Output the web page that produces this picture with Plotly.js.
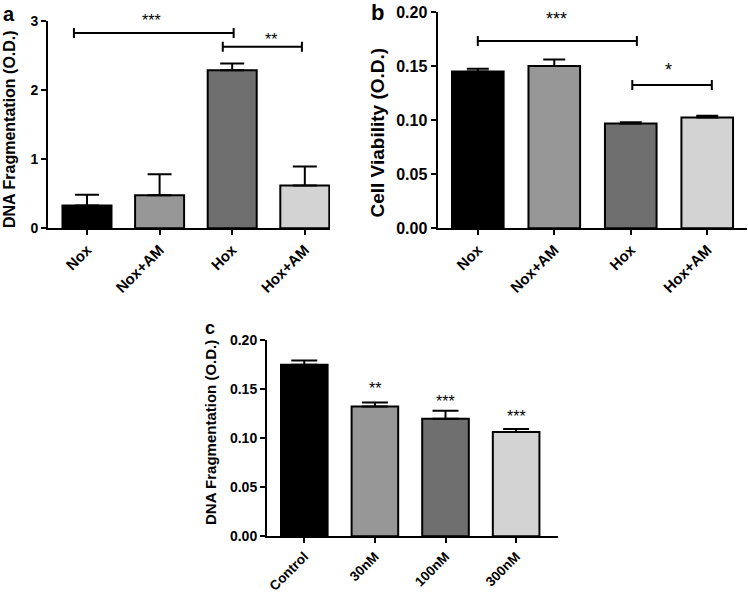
<!DOCTYPE html>
<html>
<head>
<meta charset="utf-8">
<script src="https://cdn.plot.ly/plotly-3.0.1.min.js"></script>
<style>html,body{margin:0;padding:0;background:#fff;}#chart{width:748px;height:593px;}</style>
</head>
<body>
<div id="chart"></div>
<script>
// ---- data ----
var catsAB = ['Nox', 'Nox+AM', 'Hox', 'Hox+AM'];
var valsA = [0.33, 0.48, 2.29, 0.62];
var errA = [0.155, 0.305, 0.10, 0.275];
var valsB = [0.145, 0.150, 0.097, 0.1025];
var errB = [0.0025, 0.006, 0.001, 0.0015];
var catsC = ['Control', '30nM', '100nM', '300nM'];
var valsC = [0.175, 0.1325, 0.120, 0.1065];
var errC = [0.0045, 0.004, 0.008, 0.003];
var barColors = ['#000000', '#979797', '#6f6f6f', '#d3d3d3'];

// significance brackets (category index units, value units)
var sigA_from = [-0.18, 1.87];
var sigA_to = [2.02, 2.96];
var sigA_y = [2.83, 2.63];
var sigA_text = ['***', '**'];
var sigA_textX = [0.89, 2.54];
var sigA_textY = [3.07, 2.80];

var sigB_from = [0.0, 2.02];
var sigB_to = [2.08, 3.06];
var sigB_y = [0.1732, 0.1325];
var sigB_text = ['***', '*'];
var sigB_textX = [1.03, 2.5];
var sigB_textY = [0.197, 0.150];

var sigC_text = ['**', '***', '***'];
var sigC_cat = [1, 2, 3];
var sigC_textY = [0.1544, 0.1415, 0.1265];

var FONT = '"Liberation Sans", Arial, sans-serif';

// pixel geometry of the three plotting areas (layout only)
var W = 748, H = 593;
var geomA = {x0: 48, x1: 330, yb: 228.3, yt: 21.3, ymax: 3};
var geomB = {x0: 437.5, x1: 747, yb: 228.3, yt: 12, ymax: 0.2};
var geomC = {x0: 267, x1: 558, yb: 536.3, yt: 340.3, ymax: 0.2};

function barTrace(cats, vals, errs, xa, ya, capw, width) {
  return {
    type: 'bar', x: cats, y: vals, xaxis: xa, yaxis: ya, width: width,
    marker: {color: barColors, line: {color: '#000', width: 2}},
    error_y: {type: 'data', symmetric: false, array: errs,
      arrayminus: errs.map(function(){return 0;}), color: '#000', thickness: 2, width: capw},
    hoverinfo: 'none'
  };
}

var data = [
  barTrace(catsAB, valsA, errA, 'x', 'y', 12, 0.675),
  barTrace(catsAB, valsB, errB, 'x2', 'y2', 11, 0.675),
  barTrace(catsC, valsC, errC, 'x3', 'y3', 13, 0.66)
];

var shapes = [];
var annotations = [];
function starAnn(xr, yr, x, y, txt, fs, g) {
  var pxPerUnit = (g.yb - g.yt) / g.ymax;
  var yy = y, shift = -4;
  if (y > g.ymax) { yy = g.ymax; shift += (y - g.ymax) * pxPerUnit; }
  annotations.push({xref: xr, yref: yr, x: x, y: yy, text: txt, showarrow: false,
    xanchor: 'center', yanchor: 'middle', yshift: shift, font: {family: FONT, size: fs, color: '#000'}});
}
function addBrackets(from, to, ys, texts, tx, ty, xr, yr, endH, fs, g) {
  for (var i = 0; i < from.length; i++) {
    shapes.push({type: 'line', xref: xr, yref: yr, x0: from[i], x1: to[i], y0: ys[i], y1: ys[i], line: {color: '#000', width: 2}});
    shapes.push({type: 'line', xref: xr, yref: yr, x0: from[i], x1: from[i], y0: ys[i] - endH, y1: ys[i] + endH, line: {color: '#000', width: 2}});
    shapes.push({type: 'line', xref: xr, yref: yr, x0: to[i], x1: to[i], y0: ys[i] - endH, y1: ys[i] + endH, line: {color: '#000', width: 2}});
    starAnn(xr, yr, tx[i], ty[i], texts[i], fs, g);
  }
}
addBrackets(sigA_from, sigA_to, sigA_y, sigA_text, sigA_textX, sigA_textY, 'x', 'y', 0.072, 16, geomA);
addBrackets(sigB_from, sigB_to, sigB_y, sigB_text, sigB_textX, sigB_textY, 'x2', 'y2', 0.0046, 18, geomB);
for (var k = 0; k < sigC_text.length; k++) {
  starAnn('x3', 'y3', sigC_cat[k], sigC_textY[k], sigC_text[k], 16, geomC);
}

function label(txt, px, py, fs, angle) {
  annotations.push({xref: 'paper', yref: 'paper', x: px / W, y: (H - py) / H, text: txt, showarrow: false,
    xanchor: 'center', yanchor: 'middle', textangle: angle || 0,
    font: {family: FONT, size: fs, color: '#000', weight: 'bold'}});
}
label('DNA Fragmentation (O.D.)', 10, 129, 16, -90);
label('Cell Viability (O.D.)', 377, 132.5, 19, -90);
label('DNA Fragmentation (O.D.)', 210, 433, 15, -90);
label('a', 9, 14, 20);
label('b', 377, 13, 22);
label('c', 210, 328, 18);

function xax(g, range, cats, fs, anchor) {
  return {domain: [g.x0 / W, g.x1 / W], range: range, type: 'category', categoryarray: cats, anchor: anchor, fixedrange: true,
    showline: true, linecolor: '#000', linewidth: 2, ticks: 'outside', ticklen: 5, tickwidth: 2, tickcolor: '#000',
    showgrid: false, zeroline: false, tickangle: -45,
    tickfont: {family: FONT, size: fs, color: '#000', weight: 'bold'}};
}
function yax(g, dtick, fmt, fs, anchor) {
  return {domain: [(H - g.yb) / H, (H - g.yt) / H], range: [0, g.ymax], dtick: dtick, tick0: 0, tickformat: fmt, anchor: anchor, fixedrange: true,
    showline: true, linecolor: '#000', linewidth: 2, ticks: 'outside', ticklen: 5, tickwidth: 2, tickcolor: '#000',
    showgrid: false, zeroline: false,
    tickfont: {family: FONT, size: fs, color: '#000', weight: 'bold'}};
}

var layout = {
  width: W, height: H, margin: {l: 0, r: 0, t: 0, b: 0},
  paper_bgcolor: '#fff', plot_bgcolor: 'rgba(0,0,0,0)', showlegend: false,
  xaxis: xax(geomA, [-0.537, 3.347], catsAB, 15, 'y'),
  yaxis: yax(geomA, 1, 'd', 14, 'x'),
  xaxis2: xax(geomB, [-0.527, 3.52], catsAB, 15, 'y2'),
  yaxis2: yax(geomB, 0.05, '.2f', 16, 'x2'),
  xaxis3: xax(geomC, [-0.528, 3.593], catsC, 13.5, 'y3'),
  yaxis3: yax(geomC, 0.05, '.2f', 14, 'x3'),
  shapes: shapes,
  annotations: annotations
};

Plotly.newPlot('chart', data, layout, {displayModeBar: false, staticPlot: true});
</script>
</body>
</html>
